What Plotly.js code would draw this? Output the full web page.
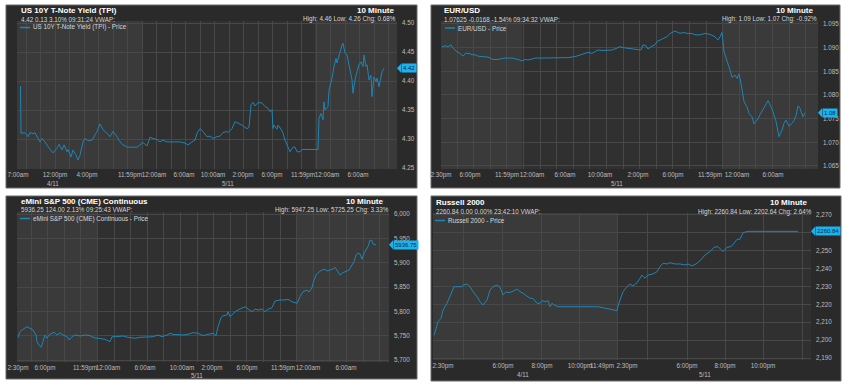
<!DOCTYPE html>
<html><head><meta charset="utf-8">
<script src="https://cdn.plot.ly/plotly-3.0.1.min.js"></script>
<style>html,body{margin:0;padding:0;background:#fff;}#chart{width:850px;height:385px;}</style>
</head><body><div id="chart"></div>
<script>
// ---------- US 10Y T-Note Yield (TPI) ----------
const tnyT = [3.5,4,8,11,13,16,18,20,23,25,
  28,31,36,40,42,45,47,50,51,54,
  56,59,61,63,66,68,71,75,77,80,
  83,86,90,93,96,100,103,106,110,116,
  120,123,126,130,133,136,140,143,146,150,
  156,163,168,171,175,178,180,183,186,190,
  193,196,200,203,206,210,211,215,218,221,
  225,228,230,232,234,236,238,241,245,248,
  251,253,255,256,257,260,261,264,266,268,
  271,273,276,278,280,283,285,290,301,302,
  304,306,307,308,310,311,312,315,317,319,
  320,322,325,326,328,330,333,335,336,338,
  340,342,344,346,347,349,350,352,354,355,
  357,359,360,362,365,367];
const tnyPrice = [4.391,4.310,4.311,4.304,4.311,4.309,4.311,4.304,4.295,4.301,
  4.295,4.287,4.276,4.284,4.291,4.281,4.290,4.278,4.282,4.269,
  4.281,4.272,4.264,4.272,4.295,4.301,4.297,4.298,4.304,4.313,
  4.326,4.316,4.310,4.304,4.313,4.304,4.295,4.290,4.286,4.286,
  4.286,4.290,4.294,4.288,4.303,4.301,4.299,4.295,4.298,4.295,
  4.295,4.295,4.293,4.290,4.295,4.298,4.310,4.318,4.313,4.304,
  4.305,4.301,4.304,4.305,4.311,4.313,4.311,4.318,4.330,4.328,
  4.324,4.320,4.318,4.320,4.359,4.363,4.357,4.363,4.362,4.356,
  4.353,4.347,4.351,4.318,4.324,4.317,4.324,4.317,4.310,4.298,
  4.287,4.278,4.286,4.286,4.278,4.278,4.282,4.282,4.282,4.336,
  4.344,4.333,4.364,4.350,4.353,4.356,4.384,4.405,4.425,4.439,
  4.431,4.445,4.462,4.465,4.448,4.445,4.419,4.402,4.379,4.402,
  4.416,4.428,4.433,4.425,4.445,4.425,4.428,4.402,4.410,4.373,
  4.407,4.399,4.405,4.390,4.416,4.422];
const tnyTickT = [1,38,70,113,137,167,196,226,255,286,310,341];
const tnyTickText = ['7:00am','12:00pm','4:00pm','11:59pm','12:00am','6:00am','10:00am','2:00pm','6:00pm','11:59pm','12:00am','6:00am'];
const tnySessions = [[0,125],[298,380]];
const tnyDates = [[36,'4/11'],[211,'5/11']];

// ---------- EUR/USD ----------
const eurT = [1,5,7,10,12,16,19,22,25,27,
  28,31,34,37,42,47,52,57,64,71,
  77,81,84,87,91,94,102,114,121,127,
  134,139,144,147,151,154,157,161,166,171,
  176,179,182,187,191,196,200,202,205,207,
  210,214,216,221,226,229,234,239,242,247,
  251,254,259,264,269,274,277,279,281,283,
  286,289,291,294,296,298,300,302,303,306,
  308,311,313,316,318,321,324,327,330,332,
  335,337,338,341,343,345,347,348,351,353,
  355,357,359,361,362,364];
const eurPrice = [1.0902,1.0904,1.0902,1.0906,1.0899,1.0891,1.0888,1.0882,1.0889,1.0887,
  1.0888,1.0885,1.0885,1.0882,1.0881,1.0880,1.0875,1.0875,1.0878,1.0878,
  1.0875,1.0872,1.0875,1.0874,1.0876,1.0878,1.0878,1.0878,1.0878,1.0879,
  1.0881,1.0885,1.0888,1.0890,1.0888,1.0891,1.0895,1.0894,1.0895,1.0895,
  1.0899,1.0902,1.0900,1.0899,1.0897,1.0897,1.0895,1.0906,1.0904,1.0897,
  1.0902,1.0906,1.0913,1.0918,1.0923,1.0930,1.0935,1.0930,1.0932,1.0930,
  1.0930,1.0927,1.0927,1.0930,1.0928,1.0923,1.0916,1.0923,1.0932,1.0891,
  1.0874,1.0853,1.0837,1.0842,1.0835,1.0844,1.0825,1.0793,1.0786,1.0775,
  1.0761,1.0754,1.0739,1.0747,1.0754,1.0765,1.0775,1.0788,1.0775,1.0765,
  1.0744,1.0722,1.0712,1.0726,1.0740,1.0747,1.0740,1.0734,1.0740,1.0746,
  1.0756,1.0777,1.0772,1.0758,1.0754,1.07625];
const eurTickT = [0,29,66,91,124,159,197,232,269,296,332];
const eurTickText = ['2:30pm','6:00pm','11:59pm','12:00am','6:00am','10:00am','2:00pm','6:00pm','11:59pm','12:00am','6:00am'];
const eurSessions = [[0,81],[281,377]];
const eurDates = [[176,'5/11']];

// ---------- eMini S&P 500 (CME) Continuous ----------
const spT = [1,3,6,10,13,16,19,20,22,24,
  26,28,30,32,35,37,40,43,46,50,
  52,55,58,63,68,73,77,81,88,93,
  95,100,106,111,118,123,130,136,141,145,
  150,153,156,161,166,171,176,181,186,191,
  196,199,201,204,206,210,211,213,216,219,
  223,228,231,235,238,241,245,248,251,255,
  258,263,268,271,275,280,283,286,290,292,
  295,296,299,301,305,308,310,313,316,318,
  320,323,326,329,332,335,337,339,341,343,
  345,347,349,351,353,355,356,359];
const spPrice = [5745.8,5758.2,5763.1,5768.4,5765.2,5761.7,5751.4,5737.6,5730.8,5726.1,
  5737.6,5751.4,5744.6,5751.4,5754.9,5757.0,5751.4,5756.1,5751.4,5747.9,
  5741.1,5747.9,5751.4,5749.3,5751.4,5750.0,5745.8,5744.6,5742.6,5737.6,
  5747.9,5747.9,5749.3,5746.6,5744.6,5746.6,5746.6,5747.9,5751.4,5747.9,
  5751.4,5754.9,5752.8,5751.4,5751.4,5752.8,5756.1,5754.9,5750.0,5752.8,
  5754.9,5750.0,5768.4,5786.9,5791.0,5792.5,5799.3,5789.0,5793.9,5800.7,
  5804.8,5809.5,5804.8,5799.3,5804.8,5802.8,5804.8,5799.3,5804.2,5807.5,
  5821.2,5823.3,5823.3,5824.7,5819.8,5816.5,5830.1,5840.4,5843.8,5839.5,
  5848.6,5857.6,5874.7,5879.4,5884.9,5886.3,5882.9,5884.9,5887.0,5890.5,
  5884.9,5874.7,5879.4,5881.4,5884.9,5895.2,5902.0,5915.8,5919.3,5917.8,
  5906.9,5919.3,5926.0,5932.8,5946.6,5945.1,5938.4,5936.75];
const spTickT = [1,28,68,91,128,165,195,230,266,291,329];
const spTickText = ['2:30pm','6:00pm','11:59pm','12:00am','6:00am','10:00am','2:00pm','6:00pm','11:59pm','12:00am','6:00am'];
const spSessions = [[0,81],[280,372]];
const spDates = [[180,'5/11']];

// ---------- Russell 2000 ----------
const rutT = [1,4,5,8,10,14,17,21,25,29,
  30,34,37,40,44,47,50,54,57,60,
  64,67,70,73,75,79,84,87,90,94,
  97,100,104,107,109,112,115,117,119,121,
  125,165,174,184,185,188,190,194,197,200,
  204,207,209,212,215,220,224,227,230,234,
  237,242,247,252,255,259,263,267,272,277,
  281,285,288,290,294,298,301,304,307,310,
  315,365];
const rutPrice = [2202.64,2207.5,2210.3,2212.2,2216.9,2220.6,2224.3,2229.9,2229.9,2229.9,
  2230.8,2231.4,2229.9,2227.1,2224.3,2221.5,2219.6,2222.4,2228.0,2229.9,
  2230.8,2229.6,2225.2,2227.1,2226.5,2227.1,2228.6,2227.1,2226.2,2224.7,
  2223.4,2223.4,2220.6,2220.6,2222.1,2221.5,2222.1,2218.7,2220.6,2219.7,
  2218.7,2218.7,2217.8,2216.5,2219.1,2224.3,2227.1,2229.9,2231.4,2230.3,
  2232.1,2234.6,2236.4,2234.6,2236.4,2237.0,2238.3,2241.1,2243.0,2242.6,
  2243.3,2242.6,2242.6,2242.0,2242.6,2241.5,2242.6,2244.4,2247.6,2249.5,
  2251.9,2252.3,2250.4,2249.5,2251.9,2252.3,2254.2,2256.4,2256.4,2260.1,
  2260.84,2260.84];
const rutTickT = [10,70,109,147,169,194,254,292,330];
const rutTickText = ['2:30pm','6:00pm','8:00pm','10:00pm','11:49pm','2:30pm','6:00pm','8:00pm','10:00pm'];
const rutSessions = [[0,184]];
const rutDates = [[90,'4/11'],[272,'5/11']];

// ---------- styling ----------
const FONT = 'Liberation Sans, Arial, sans-serif';
const W = 850, H = 385;
const X = p => p / W, Y = p => 1 - p / H;
const LINE = '#1e85b5', TAG = '#1cb2ef', PANEL_BG = '#2a2a2a', PLOT_DARK = '#303030',
      PLOT_LIGHT = '#3a3a3a', GRID = '#484848', TICK = '#bdbdbd';
const FS_TITLE = 8, FS_SUB = 6.3, FS_TICK = 6.3;

const panels = [
  {t:tnyT, v:tnyPrice, box:[6,5,417,188], plot:[17,21,397,169], yr:[4.2483,4.50345], y0:4.25, dy:0.05, fmt:'.2f',
   tv:tnyTickT, tt:tnyTickText, grid:{tick0:9, dtick:14.5}, sess:tnySessions, dates:tnyDates, dateY:183,
   title:'US 10Y T-Note Yield (TPI)', sub:'4.42 0.13 3.10% 09:31:24 VWAP:', leg:'US 10Y T-Note Yield (TPI) - Price',
   stats:'High: 4.46 Low: 4.26 Chg: 0.68%', tag:'4.42',
   pTitle:[20,10.5], pSub:[20,19], pLeg:[20,27.5], pRight:[395,10.5], pStats:[397,19.5]},
  {t:eurT, v:eurPrice, box:[431,5,840,188], plot:[441,21,818,169], yr:[1.06436,1.09563], y0:1.065, dy:0.005, fmt:'.3f',
   tv:eurTickT, tt:eurTickText, grid:{tick0:16, dtick:16.6}, sess:eurSessions, dates:eurDates, dateY:183,
   title:'EUR/USD', sub:'1.07625 -0.0168 -1.54% 09:34:32 VWAP:', leg:'EUR/USD - Price',
   stats:'High: 1.09 Low: 1.07 Chg: -0.92%', tag:'1.08',
   pTitle:[443,10.5], pSub:[443,19], pLeg:[445,28], pRight:[814,10.5], pStats:[818,19.5]},
  {t:spT, v:spPrice, box:[6,196,417,379], plot:[17,212,389,362], yr:[5695.9,6004.1], y0:5700, dy:50, fmt:',',
   tv:spTickT, tt:spTickText, grid:{tick0:14, dtick:16.6}, sess:spSessions, dates:spDates, dateY:375,
   title:'eMini S&amp;P 500 (CME) Continuous', sub:'5936.25 124.00 2.13% 09:25:43 VWAP:', leg:'eMini S&amp;P 500 (CME) Continuous - Price',
   stats:'High: 5947.25 Low: 5725.25 Chg: 3.33%', tag:'5936.75',
   pTitle:[20,201.5], pSub:[20,209.5], pLeg:[20,218.5], pRight:[384,201.5], pStats:[390,210]},
  {t:rutT, v:rutPrice, box:[431,196,841,381], plot:[433,213,811,360], yr:[2188.9,2271.1], y0:2190, dy:10, fmt:',',
   tv:rutTickT, tt:rutTickText, grid:{tickvals:[30,69,108,146,184,214,254,292,330,369]}, sess:rutSessions, dates:rutDates, dateY:374,
   title:'Russell 2000', sub:'2260.84 0.00 0.00% 23:42:10 VWAP:', leg:'Russell 2000 - Price',
   stats:'High: 2260.84 Low: 2202.64 Chg: 2.64%', tag:'2260.84',
   pTitle:[435,202.5], pSub:[435,211.5], pLeg:[435,220.5], pRight:[808,202.5], pStats:[813,211.5]}
];

const data = [], shapes = [], annotations = [];
const layout = {
  width: W, height: H, margin:{l:0,r:0,t:0,b:0}, paper_bgcolor:'#ffffff', plot_bgcolor:'rgba(0,0,0,0)',
  showlegend:false, font:{family:FONT, size:FS_TICK, color:TICK}, hovermode:false
};

panels.forEach((p, i) => {
  const n = i === 0 ? '' : String(i + 1);
  const xn = 'x' + n, yn = 'y' + n;
  const [l, tp, r, b] = p.plot;
  const last = p.v[p.v.length - 1];
  const pxPerUnit = (b - tp) / (p.yr[1] - p.yr[0]);

  // y ticks: the value tag hides the label it covers
  const yVals = [], yText = [];
  for (let k = 0; p.y0 + k * p.dy <= p.yr[1] + 1e-9; k++) {
    const v = +(p.y0 + k * p.dy).toFixed(6);
    yVals.push(v);
    yText.push(Math.abs(v - last) * pxPerUnit < 4 ? '' : Plotly.d3 ? '' : null);
  }
  const fmtNum = v => p.fmt === ',' ? v.toLocaleString('en-US') : v.toFixed(p.fmt === '.2f' ? 2 : 3);
  const yTickText = yVals.map(v => Math.abs(v - last) * pxPerUnit < 4 ? ' ' : fmtNum(v));

  const minor = Object.assign({showgrid:true, gridcolor:GRID, gridwidth:1, ticks:''}, p.grid);
  layout['xaxis' + n] = {
    domain:[X(l), X(r)], range:[0, r - l], anchor:yn, tickmode:'array', tickvals:p.tv, ticktext:p.tt, tickangle:0,
    showgrid:false, zeroline:false, showline:false, ticks:'', fixedrange:true, automargin:false,
    tickfont:{family:FONT, size:FS_TICK, color:TICK}, ticklabelstandoff:1, minor:minor
  };
  layout['yaxis' + n] = {
    domain:[Y(b), Y(tp)], range:p.yr, anchor:xn, side:'right', tickmode:'array', tickvals:yVals, ticktext:yTickText,
    showgrid:true, gridcolor:GRID, gridwidth:1, zeroline:false, showline:false, ticks:'',
    fixedrange:true, automargin:false, tickfont:{family:FONT, size:FS_TICK, color:TICK}, ticklabelstandoff:4
  };
  data.push({type:'scatter', mode:'lines', x:p.t, y:p.v, xaxis:xn, yaxis:yn,
             line:{color:LINE, width:1}, hoverinfo:'skip'});

  // panel frame
  shapes.push({type:'rect', xref:'paper', yref:'paper', x0:X(p.box[0]), x1:X(p.box[2]), y0:Y(p.box[3]), y1:Y(p.box[1]),
               fillcolor:PANEL_BG, line:{color:'#6a6a6a', width:1}, layer:'below'});
  // plot area + lighter sessions
  shapes.push({type:'rect', xref:xn + ' domain', yref:yn + ' domain', x0:0, x1:1, y0:0, y1:1,
               fillcolor:PLOT_DARK, line:{width:0}, layer:'below'});
  p.sess.forEach(s => shapes.push({type:'rect', xref:xn, yref:yn + ' domain', x0:s[0], x1:s[1], y0:0, y1:1,
               fillcolor:PLOT_LIGHT, line:{width:0}, layer:'below'}));
  // legend swatch
  shapes.push({type:'line', xref:'paper', yref:'paper', x0:X(p.pLeg[0]), x1:X(p.pLeg[0] + 10), y0:Y(p.pLeg[1]), y1:Y(p.pLeg[1]),
               line:{color:LINE, width:1.5}, layer:'above'});
  // value tag
  const d = 4.5 / pxPerUnit;
  shapes.push({type:'path', xref:'paper', yref:yn,
               path:`M ${X(r)},${last} L ${X(r + 4)},${last + d} L ${X(r + 4)},${last - d} Z`,
               fillcolor:TAG, line:{width:0}, layer:'above'});
  annotations.push({xref:'paper', yref:yn, x:X(r + 3.5), y:last, xanchor:'left', yanchor:'middle', showarrow:false,
                    text:p.tag, bgcolor:TAG, borderpad:1, font:{family:FONT, size:6, color:'#082b40'}});

  const txt = (pos, text, opts) => annotations.push(Object.assign({xref:'paper', yref:'paper', x:X(pos[0]), y:Y(pos[1]),
                    xanchor:'left', yanchor:'middle', showarrow:false, borderpad:0, text:text}, opts));
  txt(p.pTitle, '<b>' + p.title + '</b>', {font:{family:FONT, size:FS_TITLE, color:'#ffffff'}});
  txt(p.pSub, p.sub, {font:{family:FONT, size:FS_SUB, color:'#d8d8d8'}});
  txt([p.pLeg[0] + 12, p.pLeg[1]], p.leg, {font:{family:FONT, size:FS_SUB, color:'#d8d8d8'}});
  txt(p.pRight, '<b>10 Minute</b>', {xanchor:'right', font:{family:FONT, size:FS_TITLE, color:'#ffffff'}});
  txt(p.pStats, p.stats, {xanchor:'right', font:{family:FONT, size:FS_SUB, color:'#d8d8d8'}});
  p.dates.forEach(dt => annotations.push({xref:xn, yref:'paper', x:dt[0], y:Y(p.dateY), xanchor:'center', yanchor:'middle',
                    showarrow:false, borderpad:0, text:dt[1], font:{family:FONT, size:FS_TICK, color:TICK}}));
});

layout.shapes = shapes;
layout.annotations = annotations;
Plotly.newPlot('chart', data, layout, {staticPlot:true, displayModeBar:false});
</script>
</body></html>
